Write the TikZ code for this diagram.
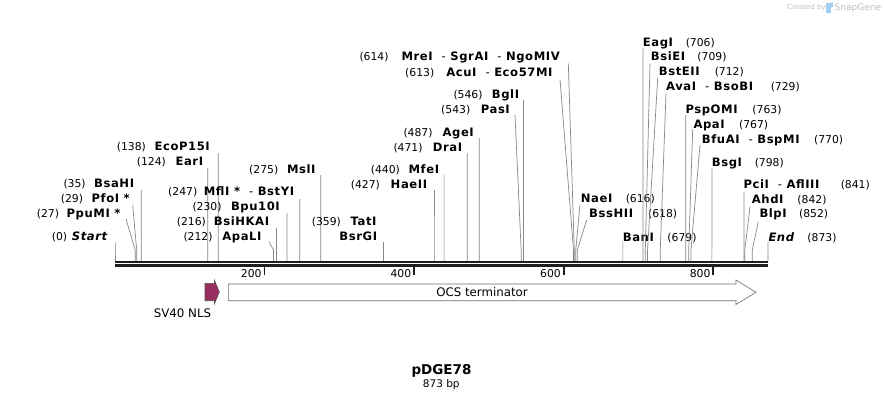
\documentclass[tikz,border=0pt]{standalone}
\usepackage{fontspec}
\setmainfont{DejaVu Sans}
\definecolor{cutgray}{RGB}{135,135,135}
\definecolor{bbcol}{RGB}{30,30,30}
\definecolor{nlsfill}{RGB}{152,46,96}
\definecolor{ocsline}{RGB}{110,110,110}
\definecolor{sgray}{RGB}{190,190,190}
\definecolor{sblue}{RGB}{160,205,240}
\newcommand\dsh{\hspace{9pt}{\mdseries -}\hspace{4.5pt}}
\tikzset{
  numt/.style={inner sep=0pt, font=\fontsize{10.8}{12}\selectfont},
  enz/.style={inner sep=0pt, font=\fontsize{11.6}{13}\selectfont\bfseries\addfontfeature{LetterSpace=5}},
  cut/.style={draw=cutgray, line width=0.7pt},
  tickl/.style={draw=bbcol, line width=1.8pt},
  ticktxt/.style={inner sep=0pt, font=\fontsize{10.8}{12}\selectfont},
  feattxt/.style={inner sep=0pt, font=\fontsize{11.8}{13}\selectfont},
}
% left-hand site: id, number x (start), position, name end x, y, name, line top x, line top y
\newcommand\Ls[8]{%
  \node[numt,anchor=base west] (#1n) at (#2,{#5+4}) {(#3)};
  \node[enz,anchor=base east] (#1e) at (#4,{#5+4}) {#6};
  \coordinate (#1t) at (#7,#8);
  \coordinate (#1m) at ({115+#3*0.74799},250);
  \coordinate (#1b) at ({115+#3*0.74799},261);
  \draw[cut] (#1t) -- (#1m) -- (#1b);
}
% right-hand site: id, name x (start), y, name, position, number end x, line top x, line top y
\newcommand\Rs[8]{%
  \node[enz,anchor=base west] (#1e) at (#2,{#3+4}) {#4};
  \node[numt,anchor=base east] (#1n) at (#6,{#3+4}) {(#5)};
  \coordinate (#1t) at (#7,#8);
  \coordinate (#1m) at ({115+#5*0.74799},250);
  \coordinate (#1b) at ({115+#5*0.74799},261);
  \draw[cut] (#1t) -- (#1m) -- (#1b);
}
\begin{document}
\begin{tikzpicture}[x=1pt,y=-1pt]
\useasboundingbox (0,0) rectangle (884,400);
\fill[white] (0,0) rectangle (884,400);

% cut sites, left-labelled
\Ls{s0}{51.7}{0}{108.3}{236.7}{\textit{Start}}{115}{242}
\Ls{s27}{36.7}{27}{120.7}{213}{PpuMI *}{126}{219}
\Ls{s29}{60.7}{29}{130}{198.3}{PfoI *}{132.7}{205}
\Ls{s35}{63.3}{35}{134.3}{183.3}{BsaHI}{141.18}{190}
\Ls{s124}{136.7}{124}{203.3}{161.7}{EarI}{207.75}{168}
\Ls{s138}{116.7}{138}{210}{146.7}{EcoP15I}{218.22}{153}
\Ls{s212}{183.3}{212}{261.7}{236.7}{ApaLI}{269}{241.7}
\Ls{s216}{176.7}{216}{269.3}{221.7}{BsiHKAI}{276.57}{228}
\Ls{s230}{192.3}{230}{280}{206.7}{Bpu10I}{287.04}{213}
\Ls{s247}{168}{247}{294.3}{191.7}{MflI *\dsh BstYI}{299.76}{199}
\Ls{s275}{249}{275}{315.7}{169}{MslI}{320.70}{175}
\Ls{s359}{311.7}{359}{376.7}{221.7}{TatI}{383.53}{242}
\node[enz,anchor=base east] (s359x) at (377.3,{236.7+4}) {BsrGI};
\Ls{s427}{350.7}{427}{427.3}{184.3}{HaeII}{434.40}{190}
\Ls{s440}{370.7}{440}{439.3}{169}{MfeI}{444.12}{175}
\Ls{s471}{393.3}{471}{462.3}{147.3}{DraI}{467.31}{153.3}
\Ls{s487}{403.3}{487}{474}{132.3}{AgeI}{479.28}{138}
\Ls{s543}{441}{543}{510}{109.3}{PasI}{515}{115}
\Ls{s546}{453.3}{546}{519.3}{94}{BglI}{523.41}{100}
\Ls{s613}{405}{613}{552.7}{72.3}{AcuI\dsh Eco57MI}{560}{79.3}
\Ls{s614}{359.3}{614}{560}{56.7}{MreI\dsh SgrAI\dsh NgoMIV}{568.3}{63.3}

% cut sites, right-labelled
\Rs{s616}{580.7}{198.3}{NaeI}{616}{655}{580}{205}
\Rs{s618}{589}{213.3}{BssHII}{618}{677.3}{586.7}{220}
\Rs{s679}{622.7}{237.3}{BanI}{679}{696.7}{622.89}{241.7}
\Rs{s706}{642.7}{42.3}{EagI}{706}{715}{643.09}{48.3}
\Rs{s709}{650.7}{56.7}{BsiEI}{709}{726.7}{650}{63.3}
\Rs{s712}{658.7}{71.7}{BstEII}{712}{744}{657.7}{77.7}
\Rs{s729}{666}{86.7}{AvaI\dsh BsoBI}{729}{800}{666}{93.3}
\Rs{s763}{685.3}{109}{PspOMI}{763}{781.7}{685.72}{115}
\Rs{s767}{693.3}{124.3}{ApaI}{767}{768.3}{692.7}{129.3}
\Rs{s770}{701.7}{139}{BfuAI\dsh BspMI}{770}{843.3}{700}{145}
\Rs{s798}{711.7}{162.3}{BsgI}{798}{784}{711.90}{168.3}
\Rs{s841}{743.3}{184}{PciI\dsh AflIII}{841}{870}{744.07}{191.7}
\Rs{s842}{751.7}{199}{AhdI}{842}{826.7}{750}{206.7}
\Rs{s852}{759.3}{213.3}{BlpI}{852}{828.3}{758.3}{221.7}
\Rs{s873}{768.3}{237.3}{\textit{End}}{873}{836.7}{768}{241.7}

% backbone
\coordinate (bbL) at (115,261.9);
\coordinate (bbR) at (768,261.9);
\coordinate (bbL2) at (115,265.6);
\coordinate (bbR2) at (768,265.6);
\draw[bbcol, line width=2pt] (bbL) -- (bbR);
\draw[bbcol, line width=2.7pt] (bbL2) -- (bbR2);

% ticks
\foreach \v in {200,400,600,800}{
  \coordinate (tk\v) at ({115+\v*0.74799},266.5);
  \coordinate (tke\v) at ({115+\v*0.74799},275);
  \draw[tickl] (tk\v) -- (tke\v);
  \node[ticktxt,anchor=base east] (tl\v) at ({115+\v*0.74799-2.8},277.8) {\v};
}

% features
\draw[fill=nlsfill, draw=bbcol!80, line width=0.6pt]
  (205,283.3) -- (214.3,283.3) -- (214.3,280) -- (219.3,292) -- (214.3,304) -- (214.3,300.7) -- (205,300.7) -- cycle;
\node[feattxt,anchor=base] (nls) at (182.5,317.6) {SV40 NLS};
\draw[fill=white, draw=ocsline, line width=0.6pt]
  (228.3,284) -- (736,284) -- (736,280) -- (756,292.3) -- (736,304.5) -- (736,300.7) -- (228.3,300.7) -- cycle;
\node[feattxt,anchor=base] (ocs) at (482,296.4) {OCS terminator};

% title
\node[inner sep=0pt, font=\fontsize{13.5}{15}\selectfont\bfseries, anchor=base] (title) at (441.5,374.2) {pDGE78};
\node[inner sep=0pt, font=\fontsize{10.5}{12}\selectfont, anchor=base] (size) at (441.3,387.1) {873 bp};

% watermark
\node[inner sep=0pt, font=\fontsize{7}{8}\selectfont, text=sgray, anchor=base west] (cb) at (787,9.5) {Created by};
\fill[sblue] (826,2.5) rectangle (830.5,12.5);
\fill[sblue] (830.5,2.5) -- (833,2.5) -- (833,6.5) -- (830.5,8) -- cycle;
\node[inner sep=0pt, font=\fontsize{9}{10}\selectfont, text=sgray, anchor=base west] (sg) at (834.5,10.5) {SnapGene};
\end{tikzpicture}
\end{document}
